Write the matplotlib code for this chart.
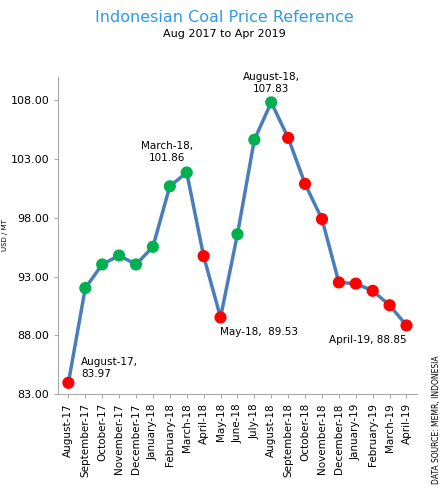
import matplotlib.pyplot as plt

months = ["August-17","September-17","October-17","November-17","December-17","January-18","February-18","March-18","April-18","May-18","June-18","July-18","August-18","September-18","October-18","November-18","December-18","January-19","February-19","March-19","April-19"]
prices = [83.97,92.03,94.04,94.80,94.04,95.54,100.69,101.86,94.75,89.53,96.61,104.65,107.83,104.81,100.89,97.90,92.51,92.41,91.80,90.57,88.85]
colors = ["red","#00b050","#00b050","#00b050","#00b050","#00b050","#00b050","#00b050","red","red","#00b050","#00b050","#00b050","red","red","red","red","red","red","red","red"]

fig = plt.figure(figsize=(4.48,4.99), dpi=100)
ax = fig.add_axes([0.13, 0.21, 0.80, 0.636])
x = list(range(len(months)))
ax.plot(x, prices, color="#4a7ebb", lw=2.5, zorder=1)
ax.scatter(x, prices, c=colors, s=60, zorder=2)
ax.set_ylim(83, 110)
ax.set_xlim(-0.6, len(months)-0.4)
ax.set_yticks([83,88,93,98,103,108])
ax.set_yticklabels([f"{v:.2f}" for v in [83,88,93,98,103,108]], fontsize=8)
ax.set_xticks(x)
ax.set_xticklabels(months, rotation=90, fontsize=7.5)
for s in ["top","right"]:
    ax.spines[s].set_visible(False)
for s in ["left","bottom"]:
    ax.spines[s].set_color("#aaaaaa")
ax.tick_params(length=3, color="#aaaaaa")
ax.set_ylabel("USD / MT", fontsize=5, labelpad=2)
fs = 7.5
ax.annotate("August-17,\n83.97", (0, prices[0]), xytext=(9, 3), textcoords="offset points", fontsize=fs, ha="left", va="bottom")
ax.annotate("March-18,\n101.86", (7, prices[7]), xytext=(-14, 7), textcoords="offset points", fontsize=fs, ha="center", va="bottom")
ax.annotate("May-18,  89.53", (9, prices[9]), xytext=(28, -7), textcoords="offset points", fontsize=fs, ha="center", va="top")
ax.annotate("August-18,\n107.83", (12, prices[12]), xytext=(0, 6), textcoords="offset points", fontsize=fs, ha="center", va="bottom")
ax.annotate("April-19, 88.85", (20, prices[20]), xytext=(0, -7), textcoords="offset points", fontsize=fs, ha="right", va="top")
fig.text(0.5, 0.955, "Indonesian Coal Price Reference", ha="center", fontsize=11.5, color="#2e9be6")
fig.text(0.5, 0.925, "Aug 2017 to Apr 2019", ha="center", fontsize=8)
fig.text(0.985, 0.03, "DATA SOURCE: MEMR, INDONESIA", rotation=90, fontsize=5.5, ha="right", va="bottom")
fig.savefig("out.png", dpi=100)
